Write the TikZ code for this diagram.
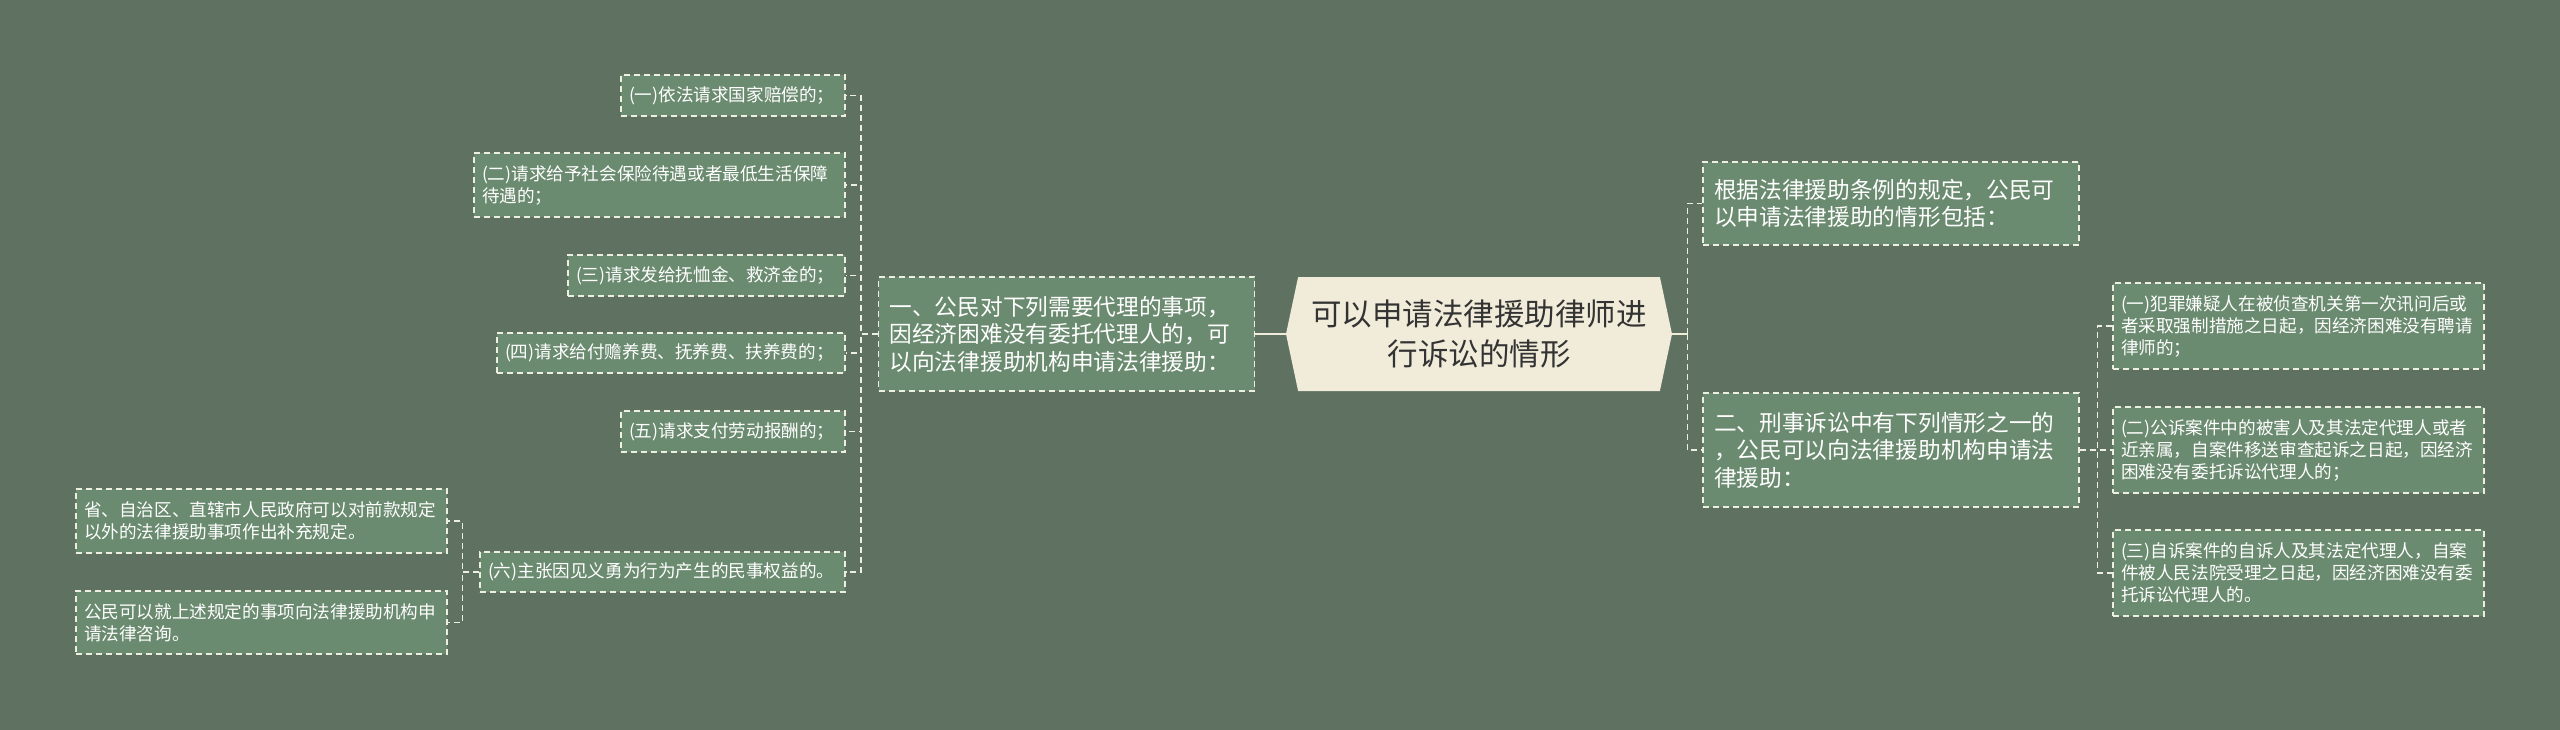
\documentclass[tikz,border=0pt]{standalone}
\usepackage{fontspec}
\setmainfont{Noto Sans CJK SC}
\usepackage{tikz}
\usetikzlibrary{shapes.symbols}
\definecolor{bgGreen}{HTML}{5F7262}
\definecolor{boxGreen}{HTML}{6B8B70}
\definecolor{hubCream}{HTML}{F1ECDA}
\definecolor{lineCream}{HTML}{EDEFE0}

\begin{document}
\begin{tikzpicture}[
    x=1pt, y=-1pt,
    leaf/.style={rectangle, draw=lineCream, dash pattern=on 6pt off 4pt, line width=1.4pt, fill=boxGreen, text=white, font=\fontsize{17.6}{22}\selectfont, align=left, inner xsep=8pt, inner ysep=0pt},
    branch/.style={leaf, font=\fontsize{22.7}{27.5}\selectfont, inner xsep=11pt, text width=354pt},
    hub/.style={signal, signal to=west and east, signal pointer angle=156, fill=hubCream, text=black!80, font=\fontsize{30.5}{40}\selectfont, align=center, minimum width=386pt, minimum height=114pt, inner sep=0pt},
    link/.style={draw=lineCream, dash pattern=on 6pt off 4pt, line width=1.4pt},
    stem/.style={draw=hubCream, line width=2.5pt}
]

% Background
\useasboundingbox (0,0) rectangle (2560,730);
\fill[bgGreen] (0,0) rectangle (2560,730);

% Central topic
\node[hub] (hub) at (1479,334) {可以申请法律援助律师进\\行诉讼的情形};

% Left branch
\node[branch, minimum height=114pt] (one) at (1066.5,334) {一、公民对下列需要代理的事项，\\因经济困难没有委托代理人的，可\\以向法律援助机构申请法律援助：};

% Left leaves
\node[leaf, text width=208pt, minimum height=41pt] (a1) at (733,95.5) {(一)依法请求国家赔偿的；};
\node[leaf, text width=355pt, minimum height=64pt] (a2) at (659.5,185) {(二)请求给予社会保险待遇或者最低生活保障\\待遇的；};
\node[leaf, text width=261pt, minimum height=41pt] (a3) at (706.5,275.5) {(三)请求发给抚恤金、救济金的；};
\node[leaf, text width=332pt, minimum height=40pt] (a4) at (671,353) {(四)请求给付赡养费、抚养费、扶养费的；};
\node[leaf, text width=208pt, minimum height=41pt] (a5) at (733,431.5) {(五)请求支付劳动报酬的；};
\node[leaf, text width=349pt, minimum height=40pt] (a6) at (662.5,572) {(六)主张因见义勇为行为产生的民事权益的。};

% Notes on item six
\node[leaf, text width=355pt, minimum height=64pt] (b1) at (261.5,521) {省、自治区、直辖市人民政府可以对前款规定\\以外的法律援助事项作出补充规定。};
\node[leaf, text width=355pt, minimum height=63pt] (b2) at (261.5,622.5) {公民可以就上述规定的事项向法律援助机构申\\请法律咨询。};

% Right branches
\node[branch, minimum height=83pt] (r1) at (1891,203.5) {根据法律援助条例的规定，公民可\\以申请法律援助的情形包括：};
\node[branch, minimum height=114pt] (r2) at (1891,450) {二、刑事诉讼中有下列情形之一的\\，公民可以向法律援助机构申请法\\律援助：};

% Right leaves
\node[leaf, text width=355pt, minimum height=86pt] (c1) at (2298.5,326) {(一)犯罪嫌疑人在被侦查机关第一次讯问后或\\者采取强制措施之日起，因经济困难没有聘请\\律师的；};
\node[leaf, text width=355pt, minimum height=86pt] (c2) at (2298.5,450) {(二)公诉案件中的被害人及其法定代理人或者\\近亲属，自案件移送审查起诉之日起，因经济\\困难没有委托诉讼代理人的；};
\node[leaf, text width=355pt, minimum height=86pt] (c3) at (2298.5,573) {(三)自诉案件的自诉人及其法定代理人，自案\\件被人民法院受理之日起，因经济困难没有委\\托诉讼代理人的。};

% Connect hub to branches
\draw[stem] (hub.west) -- (one.east);
\draw[stem] (hub.east) -- ++(15,0) coordinate (rfork);
\draw[link] (rfork) |- (r1.west);
\draw[link] (rfork) |- (r2.west);

% Connect left branch to its leaves
\draw[link] (one.west) -- ++(-17,0) |- (a1.east);
\draw[link] (one.west) -- ++(-17,0) |- (a2.east);
\draw[link] (one.west) -- ++(-17,0) |- (a3.east);
\draw[link] (one.west) -- ++(-17,0) |- (a4.east);
\draw[link] (one.west) -- ++(-17,0) |- (a5.east);
\draw[link] (one.west) -- ++(-17,0) |- (a6.east);
\draw[link] (a6.west) -- ++(-17,0) |- (b1.east);
\draw[link] (a6.west) -- ++(-17,0) |- (b2.east);

% Connect second right branch to its leaves
\draw[link] (r2.east) -- ++(18,0) |- (c1.west);
\draw[link] (r2.east) -- ++(18,0) |- (c2.west);
\draw[link] (r2.east) -- ++(18,0) |- (c3.west);

\end{tikzpicture}
\end{document}
